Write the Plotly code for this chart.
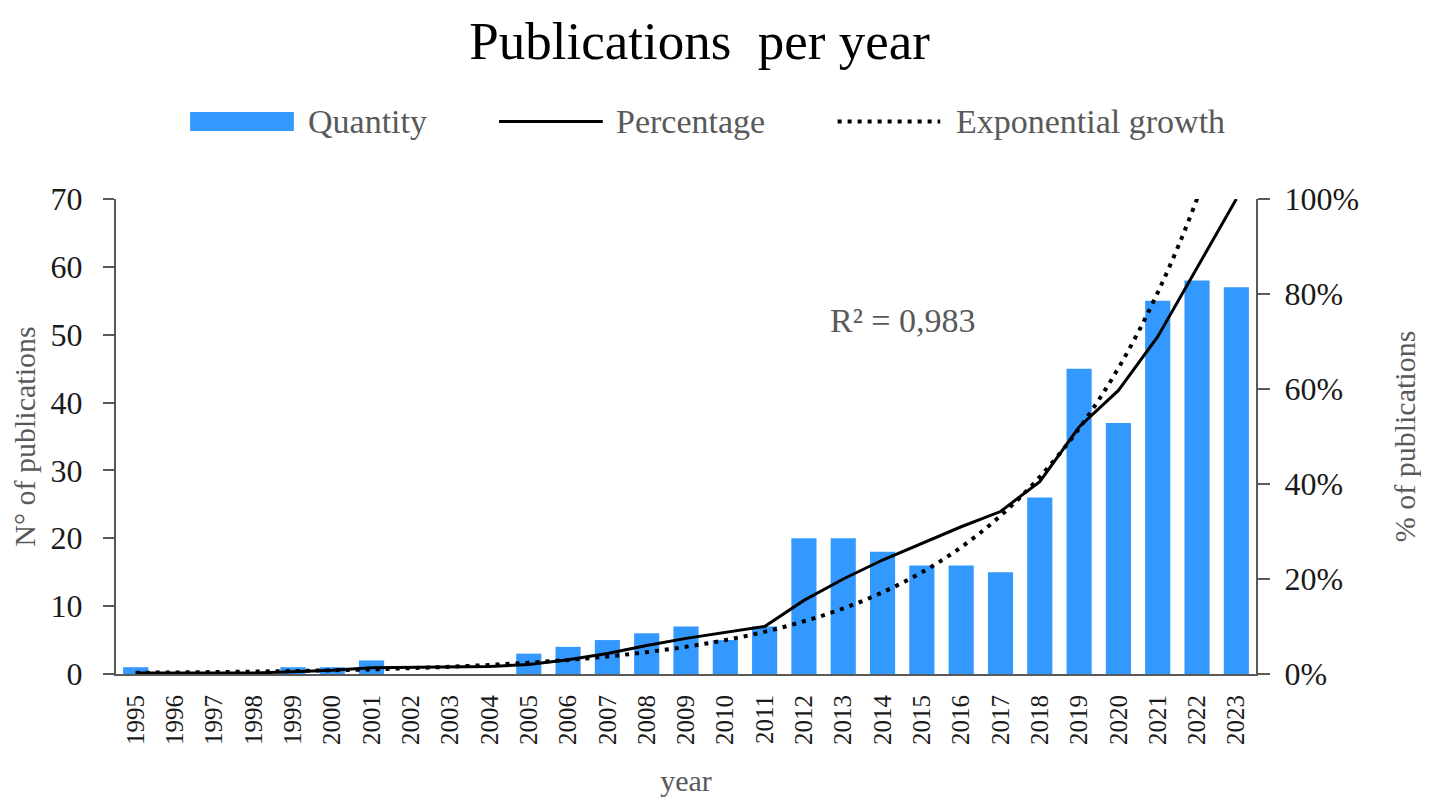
import plotly.graph_objects as go

# publications per year, 1995-2023
years = [str(y) for y in range(1995, 2024)]
quantity = [1, 0, 0, 0, 1, 1, 2, 0, 0, 0, 3, 4, 5, 6, 7, 5, 7,
            20, 20, 18, 16, 16, 15, 26, 45, 37, 55, 58, 57]
# share of publications (%)
percentage = [0.2, 0.2, 0.2, 0.2, 0.5, 0.8, 1.3, 1.4, 1.5, 1.6, 2.0, 3.0, 4.3, 6.0, 7.5,
              8.7, 10.0, 15.5, 20.0, 24.0, 27.5, 31.0, 34.2, 40.5, 52.0, 59.7, 71.0, 85.5, 100.0]
# exponential trend line (%)
exp_growth = [0.26, 0.33, 0.41, 0.51, 0.63, 0.79, 0.98, 1.23, 1.53, 1.91, 2.38, 2.96, 3.69,
              4.6, 5.73, 7.14, 8.89, 11.1, 13.8, 17.2, 21.4, 26.7, 33.3, 41.5, 51.7, 64.4,
              80.3, 100.0, 124.6]

SERIF = "Liberation Serif"
GREY = "#595959"
BLUE = "#3399ff"

fig = go.Figure()
fig.add_trace(go.Bar(x=years, y=quantity, name="Quantity", marker_color=BLUE,
                     marker_line_width=0))
fig.add_trace(go.Scatter(x=years, y=percentage, name="Percentage", yaxis="y2",
                         mode="lines", line=dict(color="black", width=3)))
fig.add_trace(go.Scatter(x=years, y=exp_growth, name="Exponential growth", yaxis="y2",
                         mode="lines", line=dict(color="black", width=4, dash="4px,6px",
                                                 shape="spline")))

# legend drawn by hand so the bar swatch can be a wide strip like the original
leg_y = 1.163
fig.add_shape(type="rect", xref="paper", yref="paper", x0=0.065, x1=0.156,
              y0=1.143, y1=1.183, fillcolor=BLUE, line_width=0)
fig.add_shape(type="line", xref="paper", yref="paper", x0=0.336, x1=0.427,
              y0=leg_y, y1=leg_y, line=dict(color="black", width=3))
fig.add_shape(type="line", xref="paper", yref="paper", x0=0.633, x1=0.723,
              y0=leg_y, y1=leg_y, line=dict(color="black", width=4, dash="4px,6px"))
for label, xp in [("Quantity", 0.167), ("Percentage", 0.437), ("Exponential growth", 0.735)]:
    fig.add_annotation(text=label, x=xp, y=leg_y, xref="paper", yref="paper",
                       xanchor="left", yanchor="middle", showarrow=False,
                       font=dict(family=SERIF, size=34, color=GREY))

fig.add_annotation(text="R² = 0,983", x=0.69, y=0.745, xref="paper", yref="paper",
                   xanchor="center", yanchor="middle", showarrow=False,
                   font=dict(family=SERIF, size=34, color=GREY))

fig.update_layout(
    width=1429, height=807,
    margin=dict(l=108, r=181, t=191, b=141),
    paper_bgcolor="white", plot_bgcolor="white",
    font=dict(family=SERIF, color="black"),
    title=dict(text="Publications  per year", x=0.484, xanchor="center",
               y=0.96, yanchor="middle", font=dict(family=SERIF, size=53, color="black")),
    bargap=0.36,
    showlegend=False,
    xaxis=dict(type="category", range=[-0.5, 28.5], showline=True, linecolor=GREY,
               linewidth=2, ticks="outside", ticklen=9, tickcolor="rgba(0,0,0,0)",
               tickangle=-90, tickfont=dict(size=25, color="#1a1a1a"),
               title=dict(text="year", font=dict(size=30, color=GREY), standoff=26)),
    yaxis=dict(range=[0, 70], dtick=10, showgrid=False, zeroline=False,
               showline=True, linecolor=GREY, linewidth=2,
               ticks="outside", ticklen=11, tickcolor=GREY, tickwidth=2,
               ticklabelstandoff=14,
               tickfont=dict(size=32, color="#1a1a1a"),
               title=dict(text="N° of publications", font=dict(size=30, color=GREY),
                          standoff=8)),
    yaxis2=dict(range=[0, 100], dtick=20, ticksuffix="%", overlaying="y", side="right",
                showgrid=False, zeroline=False,
                showline=True, linecolor=GREY, linewidth=2,
                ticks="outside", ticklen=12, tickcolor=GREY, tickwidth=2,
                ticklabelstandoff=8,
                tickfont=dict(size=32, color="#1a1a1a"),
                title=dict(text="% of publications", font=dict(size=30, color=GREY),
                           standoff=36)),
)

fig.write_html("out.html")
